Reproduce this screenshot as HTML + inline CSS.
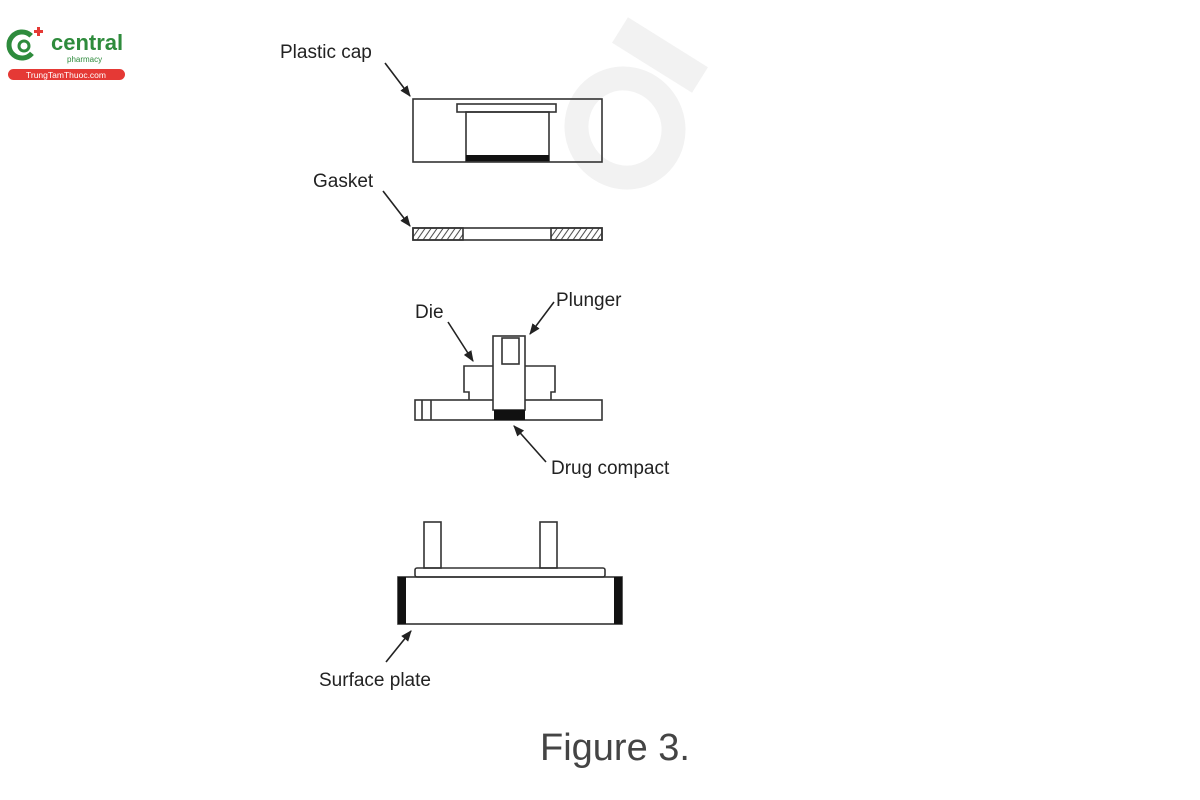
<!DOCTYPE html>
<html><head><meta charset="utf-8"><style>
html,body{margin:0;padding:0;background:#fff;}
svg{display:block}
text{font-family:"Liberation Sans",sans-serif;fill:#222}
</style></head><body>
<svg width="1200" height="800" viewBox="0 0 1200 800" xmlns="http://www.w3.org/2000/svg">
<defs>
<marker id="ah" viewBox="0 0 10 10" refX="9" refY="5" markerWidth="7" markerHeight="7" orient="auto"><path d="M0,1 L10,5 L0,9 z" fill="#222"/></marker>
<pattern id="hatch" width="6" height="12" patternUnits="userSpaceOnUse" patternTransform="skewX(-35)"><line x1="3" y1="0" x2="3" y2="12" stroke="#444" stroke-width="1.2"/></pattern>
</defs>
<!-- watermark -->
<g fill="none" stroke="#f2f2f2">
<ellipse cx="625" cy="128" rx="48" ry="50" stroke-width="24" transform="rotate(-30 625 128)"/>
<line x1="620" y1="30" x2="700" y2="80" stroke-width="30"/>
</g>
<!-- logo -->
<circle cx="22" cy="45" r="13" fill="none" stroke="#2e8b3c" stroke-width="5" stroke-dasharray="62 20" transform="rotate(40 22 45)"/>
<circle cx="24" cy="46" r="5" fill="none" stroke="#2e8b3c" stroke-width="3"/>
<path d="M37 27h3v3h3v3h-3v3h-3v-3h-3v-3h3z" fill="#e53935"/>
<text x="51" y="50" font-size="22" font-weight="bold" style="fill:#2e8b3c">central</text>
<text x="67" y="62" font-size="8" style="fill:#2e8b3c">pharmacy</text>
<rect x="8" y="69" width="117" height="11" rx="5.5" fill="#e53935"/>
<text x="66" y="78" font-size="8.5" text-anchor="middle" style="fill:#fff">TrungTamThuoc.com</text>
<g fill="none" stroke="#333" stroke-width="1.6">
<!-- plastic cap -->
<rect x="413" y="99" width="189" height="63"/>
<rect x="457" y="104" width="99" height="8"/>
<rect x="466" y="112" width="83" height="49"/>
<!-- gasket -->
<rect x="413" y="228" width="189" height="12"/>
<rect x="413" y="228" width="50" height="12" fill="url(#hatch)"/>
<rect x="551" y="228" width="51" height="12" fill="url(#hatch)"/>
<!-- die -->
<rect x="415" y="400" width="187" height="20"/>
<line x1="422" y1="400" x2="422" y2="420"/>
<line x1="431" y1="400" x2="431" y2="420"/>
<path d="M493 366 H464 V392 H469 V400 M525 366 H555 V392 H551 V400"/>
<rect x="493" y="336" width="32" height="74" fill="#fff"/>
<rect x="502" y="338" width="17" height="26"/>
<!-- surface plate -->
<rect x="424" y="522" width="17" height="46"/>
<rect x="540" y="522" width="17" height="46"/>
<rect x="415" y="568" width="190" height="9" rx="2"/>
<rect x="398" y="577" width="224" height="47"/>
</g>
<rect x="466" y="155" width="83" height="6" fill="#111"/>
<rect x="494" y="410" width="31" height="10" fill="#111"/>
<rect x="398" y="577" width="8" height="47" fill="#111"/>
<rect x="614" y="577" width="8" height="47" fill="#111"/>
<!-- arrows -->
<g stroke="#222" stroke-width="1.6" marker-end="url(#ah)">
<line x1="385" y1="63" x2="410" y2="96"/>
<line x1="383" y1="191" x2="410" y2="226"/>
<line x1="448" y1="322" x2="473" y2="361"/>
<line x1="554" y1="302" x2="530" y2="334"/>
<line x1="546" y1="462" x2="514" y2="426"/>
<line x1="386" y1="662" x2="411" y2="631"/>
</g>
<g font-size="19">
<text x="280" y="58">Plastic cap</text>
<text x="313" y="187">Gasket</text>
<text x="415" y="318">Die</text>
<text x="556" y="306">Plunger</text>
<text x="551" y="474">Drug compact</text>
<text x="319" y="686">Surface plate</text>
</g>
<text x="540" y="760" font-size="38" style="fill:#444">Figure 3.</text>
</svg>
</body></html>
